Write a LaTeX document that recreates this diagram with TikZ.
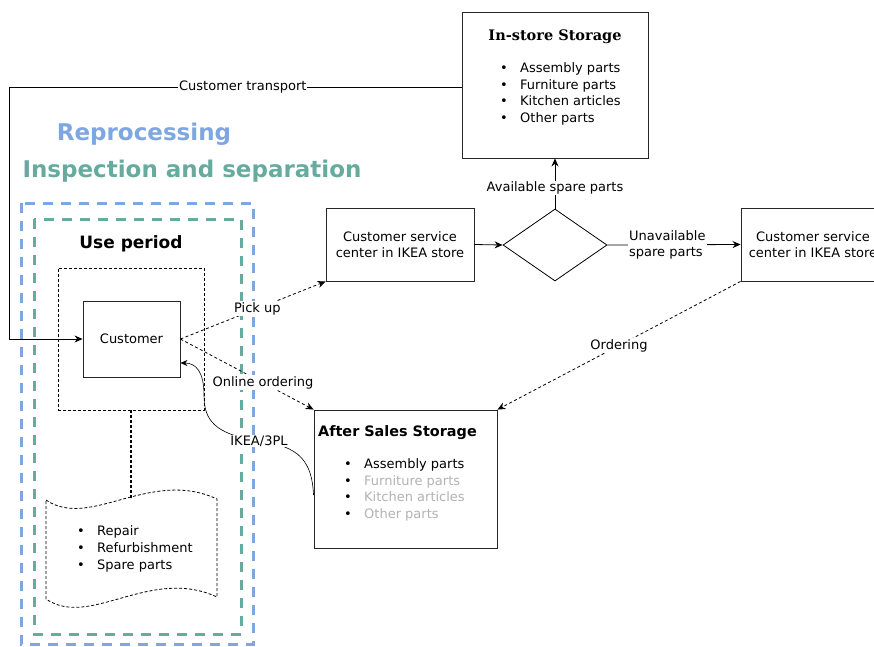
\documentclass[tikz,border=0pt]{standalone}
\usepackage{fontspec}
\setmainfont{DejaVu Sans}
\newfontfamily\serifbf{DejaVu Serif}
\usetikzlibrary{arrows.meta,shapes.geometric,calc}
\definecolor{repblue}{HTML}{7EA6E0}
\definecolor{insgreen}{HTML}{67AB9F}
\definecolor{fadegray}{HTML}{B3B3B3}
\newcommand{\bitem}[1]{\makebox[20pt][l]{\textbullet}#1}
\begin{document}
\begin{tikzpicture}[x=1pt,y=-1pt,
  every node/.style={font=\fontsize{13}{16}\selectfont},
  box/.style={draw=black!85, line width=0.9pt, fill=white, inner sep=0pt, align=center},
  lbl/.style={fill=white, inner sep=1pt, font=\fontsize{13}{16}\selectfont},
  conn/.style={draw=black, line width=0.8pt},
  arr/.style={conn, -{Stealth[length=8pt,width=7pt]}},
  dasharr/.style={arr, dash pattern=on 3pt off 2.5pt},
  bigdash/.style={line width=3pt, dash pattern=on 10pt off 8pt},
  listtext/.style={anchor=west, align=left, inner sep=0pt, font=\fontsize{13}{16.8}\selectfont}
]
\useasboundingbox (0,0) rectangle (874,646);
\clip (0,0) rectangle (874,646);

% region frames
\draw[repblue, bigdash] (21,203) rectangle (253,644);
\draw[insgreen, bigdash] (34,219) rectangle (241,634);
\node[font=\fontsize{23}{27}\bfseries, text=repblue] (reproc) at (144,134) {Reprocessing};
\node[font=\fontsize{23}{27}\bfseries, text=insgreen] (insp) at (192,171) {Inspection and separation};
\node[font=\fontsize{17}{20}\bfseries] (usetitle) at (131,244) {Use period};

% use period container and customer
\node[draw=black, line width=0.8pt, dash pattern=on 3pt off 2pt, minimum width=146pt, minimum height=142pt, inner sep=0pt] (usep) at (131,339) {};
\node[box, minimum width=97pt, minimum height=76pt] (cust) at (131.5,339) {Customer};

% document shape
\draw[black, line width=0.8pt, dash pattern=on 3pt off 2pt, fill=white]
  (46,500) .. controls (90,530) and (150,468) .. (217,499)
  -- (217,597) .. controls (150,566) and (90,629) .. (46,599) -- cycle;
\coordinate (doctop) at (131,499);
\node[listtext] (doclist) at (77,549) {\bitem{Repair}\\\bitem{Refurbishment}\\\bitem{Spare parts}};
\draw[black, line width=1.6pt, dash pattern=on 3pt off 2pt] (usep.south) -- (doctop);

% in-store storage
\node[box, minimum width=186pt, minimum height=146pt] (instore) at (555,85) {};
\node[font=\serifbf\fontsize{14.5}{17}\bfseries] (istitle) at (555,37) {In-store Storage};
\node[listtext] (islist) at (500,94) {\bitem{Assembly parts}\\\bitem{Furniture parts}\\\bitem{Kitchen articles}\\\bitem{Other parts}};

% customer service centers and decision
\node[box, minimum width=148pt, minimum height=73pt] (csc1) at (400,244.5) {Customer service\\center in IKEA store};
\node[draw=black, line width=0.8pt, diamond, aspect=1.444, minimum width=104pt, minimum height=72pt, inner sep=0pt] (dec) at (555,245) {};
\node[box, minimum width=144pt, minimum height=73pt] (csc2) at (813,244.5) {Customer service\\center in IKEA store};

% after sales storage
\node[box, minimum width=183pt, minimum height=138pt] (ass) at (405.5,479) {};
\node[anchor=west, inner sep=0pt, font=\fontsize{14.4}{17}\bfseries] (astitle) at (318,433) {After Sales Storage};
\node[listtext] (aslist) at (344,490) {\bitem{Assembly parts}\\\bitem{\textcolor{fadegray}{Furniture parts}}\\\bitem{\textcolor{fadegray}{Kitchen articles}}\\\bitem{\textcolor{fadegray}{Other parts}}};

% connectors
\draw[arr] ([yshift=-2pt]instore.west) -- ++(-452pt,0)
  node[lbl, pos=0.484] (ctlbl) {Customer transport} |- (cust.west);
\draw[arr] (csc1.east) -- (dec.west);
\draw[arr] (dec.north) -- (instore.south) node[lbl, pos=0.41] (avlbl) {Available spare parts};
\draw[arr] (dec.east) -- (csc2.west) node[lbl, pos=0.45, align=left] (unlbl) {Unavailable\\spare parts};
\draw[dasharr] (cust.east) -- (csc1.south west) node[lbl, pos=0.53] (pulbl) {Pick up};
\draw[dasharr] (cust.east) -- (ass.north west) node[lbl, pos=0.62] (oolbl) {Online ordering};
\draw[dasharr] (csc2.south west) -- (ass.north east) node[lbl, pos=0.5] (ordlbl) {Ordering};
\draw[conn, line width=0.6pt, -{Stealth[length=7pt,width=6pt]}] ([yshift=-16pt]ass.west)
  .. controls (312,462) and (300,446) .. (259,441)
  .. controls (214,434) and (204,420) .. (204,395)
  .. controls (204,372) and (196,363) .. ([yshift=-24pt]cust.east);
\node[lbl] (ikealbl) at (259,441) {IKEA/3PL};
\end{tikzpicture}
\end{document}
